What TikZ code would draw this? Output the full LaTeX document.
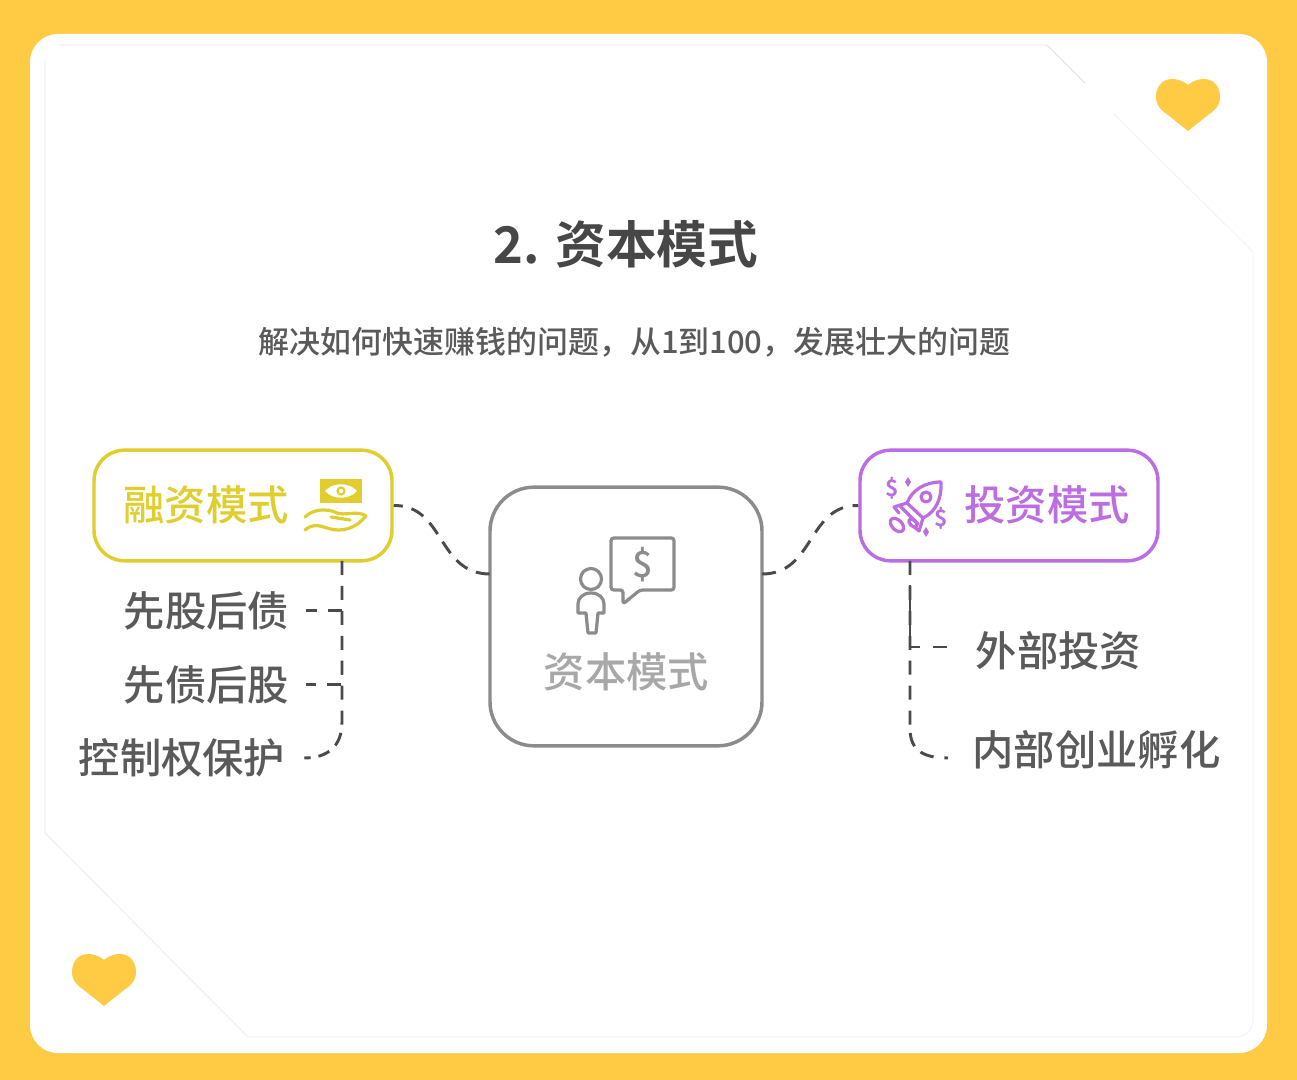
\documentclass[tikz,border=0pt]{standalone}
\usepackage{fontspec}
\setmainfont{Noto Sans CJK SC}[UprightFont=* Medium, BoldFont=* Bold]
\definecolor{bgyellow}{HTML}{FFCB45}
\definecolor{finyellow}{HTML}{DFCE2E}
\definecolor{invpurple}{HTML}{BC6DE2}
\definecolor{capgray}{HTML}{8C8C8C}
\definecolor{captext}{HTML}{A8A8A8}
\definecolor{labelgray}{HTML}{5A5A5A}
\definecolor{linkgray}{HTML}{4A4A4A}
\tikzset{
    modebox/.style={draw, rounded corners=23pt, line width=2.6pt, minimum width=223.5pt, minimum height=83pt, inner sep=0pt},
    labeltext/.style={font=\fontsize{31}{36}\selectfont, text=labelgray, inner sep=0pt},
    linkdash/.style={line width=2.2pt, color=linkgray, dash pattern=on 10.5pt off 8.2pt},
    icon/.style={line width=2.4pt, line join=round, line cap=round},
    heartmark/.pic={
        \fill[bgyellow] (0,6) .. controls (6,1) and (12,0) .. (16,0) .. controls (26,0) and (32,8) .. (32,18)
            .. controls (32,27) and (26,32) .. (20,36) -- (0,52) -- (-20,36)
            .. controls (-26,32) and (-32,27) .. (-32,18) .. controls (-32,8) and (-26,0) .. (-16,0)
            .. controls (-12,0) and (-6,1) .. (0,6) -- cycle;
    }
}
\begin{document}
\begin{tikzpicture}[x=0.75pt, y=-0.75pt]
        \useasboundingbox (0,0) rectangle (1297,1080);

        % card
        \fill[bgyellow] (0,0) rectangle (1297,1080);
        \fill[white, rounded corners=21pt] (30,34) rectangle (1267,1053);

        % faint frame
        \draw[line width=0.6pt, color=black!12] (60,45) -- (1047,45) -- (1085,83);
        \draw[line width=0.6pt, color=black!5] (1113,113) -- (1253,252) -- (1253,1020) arc (0:90:17) -- (248,1037);
        \draw[line width=0.6pt, color=black!8] (248,1037) -- (45,833) -- (45,60);

        % hearts
        \pic at (1188,79) {heartmark};
        \pic at (104,954) {heartmark};

        % title
        \node[inner sep=0pt, font=\fontsize{38}{44}\selectfont\bfseries, text=black!72] (title) at (626,244) {2. 资本模式};
        \node[inner sep=0pt, font=\fontsize{23.2}{28}\selectfont, text=labelgray] (subtitle) at (634.5,342.5) {解决如何快速赚钱的问题，从1到100，发展壮大的问题};

        % boxes
        \node[modebox, color=finyellow] (finbox) at (243,505.5) {};
        \node[modebox, color=invpurple] (invbox) at (1009,505.5) {};
        \node[draw, color=capgray, rounded corners=33pt, line width=2.6pt, minimum width=204pt, minimum height=194pt, inner sep=0pt] (capbox) at (626,616.5) {};

        % box titles
        \node[labeltext, text=finyellow] (fintitle) at (206,505) {融资模式};
        \node[labeltext, text=invpurple] (invtitle) at (1047,505) {投资模式};
        \node[labeltext, text=captext] (captitle) at (626.5,672) {资本模式};

        % labels
        \node[labeltext] (equitydebt) at (206.5,610.5) {先股后债};
        \node[labeltext] (debtequity) at (206.5,684.5) {先债后股};
        \node[labeltext] (control) at (182,758) {控制权保护};
        \node[labeltext] (external) at (1058.5,651) {外部投资};
        \node[labeltext] (internal) at (1096.5,750) {内部创业孵化};

        % joints
        \coordinate (capwest) at (490,574);
        \coordinate (capeast) at (762,574);
        \coordinate (fintap) at (342,561);
        \coordinate (invtap) at (910,561);
        \coordinate (externalend) at (947,647);
        \coordinate (internalend) at (948,758);

        % links to center
        \draw[linkdash, dash pattern=on 10.5pt off 6.8pt, dash phase=3.7pt] (finbox.east) .. controls (445,505) and (437,574) .. (capwest);
        \draw[linkdash, dash pattern=on 10.5pt off 7.35pt] (capeast) .. controls (815,574) and (807,505) .. (invbox.west);

        % left tree
        \draw[linkdash, shorten >=12.5pt] (fintap) |- (equitydebt.east);
        \draw[linkdash, shorten >=12.5pt] (fintap) |- (debtequity.east);
        \draw[linkdash, shorten >=14pt, dash pattern=on 10.5pt off 8.2pt on 10.5pt off 8.2pt on 10.5pt off 8.2pt on 10.5pt off 8.2pt on 10.5pt off 8.2pt on 10.5pt off 8.2pt on 10.5pt off 6.2pt on 10.5pt off 6.2pt on 9pt off 6pt on 10pt off 20pt] (fintap) -- (342,722) .. controls (342,746) and (328,758) .. (control.east);

        % right tree
        \draw[linkdash, dash pattern=on 9.7pt off 8.3pt on 54pt off 10pt on 10.5pt off 60pt] (invtap) |- (externalend);
        \draw[linkdash, dash pattern=on 10.5pt off 8.2pt on 10.5pt off 8.2pt on 10.5pt off 8.2pt on 10.5pt off 8.2pt on 10.5pt off 8.2pt on 10.5pt off 8.2pt on 10.5pt off 6.3pt on 10.5pt off 6.3pt on 10.5pt off 8.2pt on 10.5pt off 20pt] (invtap) -- (910,728) .. controls (910,748) and (920,758) .. (internalend);

        % money and hand
        \fill[finyellow] (320,479) rectangle (362,503);
        \fill[white] (325,491) .. controls (333,482) and (349,482) .. (357,491) .. controls (349,500) and (333,500) .. (325,491) -- cycle;
        \draw[finyellow, line width=1.6pt] (341,491) circle (3.5);
        \draw[finyellow, icon] (305,517) .. controls (313,509) and (327,508) .. (337,513) .. controls (345,516) and (358,510) .. (366,516)
            .. controls (358,525) and (350,530) .. (338,530) .. controls (325,530) and (317,520) .. (305,530);
        \draw[finyellow, icon] (331,517) -- (350,520);

        % rocket
        \begin{scope}[invpurple, icon]
            \draw (941,482) .. controls (925,482) and (912,490) .. (907,503) -- (923,518) .. controls (936,512) and (942,498) .. (941,482) -- cycle;
            \draw (926,497) circle (5);
            \draw (907,503) -- (894,507) -- (899,513);
            \draw (923,518) -- (919,531) -- (913,526);
            \draw (899,505) -- (918,524);
            \draw[rotate around={-45:(897,525)}] (897,525) ellipse (8 and 5);
            \draw[rotate around={-45:(913,523)}] (913,523) ellipse (5 and 3);
            \fill (908,477) -- (911,482) -- (908,487) -- (905,482) -- cycle;
            \fill (926,527) -- (929,532) -- (926,537) -- (923,532) -- cycle;
        \end{scope}
        \node[inner sep=0pt, text=invpurple, font=\fontsize{17}{20}\selectfont\bfseries] (dollarone) at (892,488) {\$};
        \node[inner sep=0pt, text=invpurple, font=\fontsize{17}{20}\selectfont\bfseries] (dollartwo) at (941,518) {\$};

        % person and bubble
        \begin{scope}[capgray, icon]
            \draw (591,579) circle (10.5);
            \draw (591,593) .. controls (583,593) and (578,598) .. (578,604) -- (578,613) -- (586,613) -- (588,633) -- (596,633) -- (598,613) -- (604,613) -- (604,604) .. controls (604,598) and (599,593) .. (591,593) -- cycle;
            \draw[rounded corners=2pt] (611,538) -- (674,538) -- (674,590) -- (640,590) -- (623,604) -- (623,590) -- (611,590) -- cycle;
        \end{scope}
        \node[inner sep=0pt, text=capgray, font=\fontsize{27}{30}\selectfont] (dollarcap) at (642.5,565) {\$};
    \end{tikzpicture}
\end{document}
